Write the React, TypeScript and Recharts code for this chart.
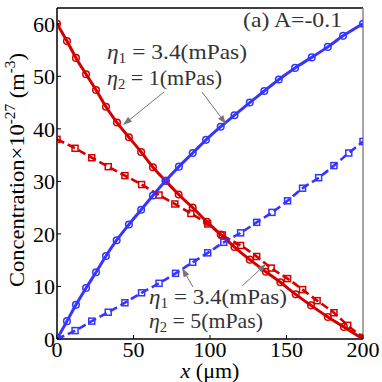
import React from 'react';
import { LineChart, Line, XAxis, YAxis, ReferenceLine } from 'recharts';

const xTicks = [0, 50, 100, 150, 200];
const yTicks = [0, 10, 20, 30, 40, 50, 60];

const redSolidX = [0, 6.5, 12.4, 19, 25.5, 32, 39.2, 47, 55, 62.7, 71, 79.5, 88.7, 98, 107, 116, 126, 136.5, 146, 156, 166, 177, 187.5, 200];
const redSolidY = [60, 56.7, 53.5, 50.4, 47.4, 44.2, 41.2, 38.4, 35.6, 32.7, 30.1, 27.5, 25.0, 22.3, 19.9, 17.5, 15.1, 12.8, 10.8, 8.5, 6.4, 4.2, 2.3, 0];

const blueSolidX = [0, 6.5, 12.4, 19, 25.5, 32, 39, 47, 55, 62.7, 71, 79.7, 88.7, 97.4, 107, 116, 126, 135.5, 145, 155.6, 166.5, 177, 187, 200];
const blueSolidY = [0, 3.4, 6.5, 9.7, 12.7, 15.8, 18.8, 21.8, 24.6, 27.3, 30.1, 32.8, 35.4, 37.9, 40.4, 42.6, 45.0, 47.2, 49.4, 51.6, 53.6, 55.6, 57.7, 60];

const redDashX = [0, 11.8, 22.7, 33.5, 44.4, 55.3, 66.7, 77, 87.5, 98.5, 108, 120, 130.5, 140, 150.7, 160.5, 170, 181, 190, 200];
const redDashY = [38, 36.3, 34.5, 32.8, 31.1, 29.4, 27.4, 25.7, 23.9, 21.9, 19.8, 17.8, 15.7, 13.5, 11.5, 9.4, 7.3, 5.0, 2.6, 0.3];

const blueDashX = [0, 11.8, 22.7, 33.5, 44.4, 55.3, 66.7, 77.5, 88.7, 98.5, 109, 120, 130.5, 140.5, 150.7, 160.5, 171, 181, 190.7, 200];
const blueDashY = [0, 1.6, 3.4, 5.1, 6.9, 8.8, 10.6, 12.5, 14.6, 16.4, 18.4, 20.2, 22.2, 24.1, 26.3, 28.7, 30.7, 33.0, 35.4, 37.6];

const zip = (xs: number[], ys: number[]) => xs.map((x, i) => ({ x, y: ys[i] }));

const redSolid = zip(redSolidX, redSolidY);
const blueSolid = zip(blueSolidX, blueSolidY);
const redDash = zip(redDashX, redDashY);
const blueDash = zip(blueDashX, blueDashY);

const RED = '#d40000';
const BLUE = '#3535ff';
const FONT = 'Liberation Serif, Times New Roman, serif';

const circleDot = (color: string) => (props: any) => {
  const { cx, cy, index } = props;
  if (cx == null || cy == null) return <g key={`c${index}`} />;
  return <circle key={`c${index}`} cx={cx} cy={cy} r={3.3} fill="none" stroke={color} strokeWidth={1.5} />;
};

const squareDot = (color: string) => (props: any) => {
  const { cx, cy, index } = props;
  if (cx == null || cy == null) return <g key={`s${index}`} />;
  return <rect key={`s${index}`} x={cx - 3} y={cy - 3} width={6} height={6} fill="none" stroke={color} strokeWidth={1.5} />;
};

const Arrow = ({ x1, y1, x2, y2 }: { x1: number; y1: number; x2: number; y2: number }) => {
  const ang = Math.atan2(y2 - y1, x2 - x1);
  const len = 9;
  const w = 3.2;
  const bx = x2 - len * Math.cos(ang);
  const by = y2 - len * Math.sin(ang);
  const px = -Math.sin(ang) * w;
  const py = Math.cos(ang) * w;
  return (
    <g>
      <line x1={x1} y1={y1} x2={bx} y2={by} stroke="#777" strokeWidth={1} />
      <polygon points={`${x2},${y2} ${bx + px},${by + py} ${bx - px},${by - py}`} fill="#777" />
    </g>
  );
};

const Eta = ({ x, y, sub, rest, len }: { x: number; y: number; sub: string; rest: string; len: number }) => (
  <text x={x} y={y} fontSize={21} fontFamily={FONT} fill="#333" textLength={len} lengthAdjust="spacingAndGlyphs">
    <tspan fontStyle="italic">η</tspan>
    <tspan fontSize={14} dy={4}>{sub}</tspan>
    <tspan dy={-4}>{rest}</tspan>
  </text>
);

const tickStyle = { fill: '#000', fontSize: 22, fontFamily: FONT } as any;

export default function App() {
  return (
    <div style={{ position: 'absolute', left: 0, top: 0, width: 382, height: 382, background: '#fff' }}>
      <LineChart width={382} height={382} margin={{ top: 8, right: 19, left: 0, bottom: 0 }}>
        <XAxis
          dataKey="x"
          type="number"
          domain={[0, 200]}
          ticks={xTicks}
          allowDataOverflow
          height={43}
          tickSize={-4}
          tickMargin={6}
          axisLine={{ stroke: '#000', strokeWidth: 1.5 }}
          tickLine={{ stroke: '#000' }}
          tick={tickStyle}
        />
        <YAxis
          type="number"
          domain={[0, 63]}
          ticks={yTicks}
          allowDataOverflow
          width={57}
          tickSize={-4}
          tickMargin={6}
          axisLine={{ stroke: '#000', strokeWidth: 1.5 }}
          tickLine={{ stroke: '#000' }}
          tick={tickStyle}
        />
        <ReferenceLine y={63} stroke="#000" strokeWidth={1.5} />
        <ReferenceLine x={200} stroke="#888" strokeWidth={1.5} />
        <Line data={redDash} dataKey="y" type="monotone" stroke={RED} strokeWidth={2.6} strokeDasharray="8 4" dot={squareDot(RED)} isAnimationActive={false} />
        <Line data={blueDash} dataKey="y" type="monotone" stroke={BLUE} strokeWidth={2.6} strokeDasharray="8 4" dot={squareDot(BLUE)} isAnimationActive={false} />
        <Line data={redSolid} dataKey="y" type="monotone" stroke={RED} strokeWidth={3} dot={circleDot(RED)} isAnimationActive={false} />
        <Line data={blueSolid} dataKey="y" type="monotone" stroke={BLUE} strokeWidth={3} dot={circleDot(BLUE)} isAnimationActive={false} />
      </LineChart>
      <svg width={382} height={382} style={{ position: 'absolute', left: 0, top: 0, pointerEvents: 'none' }}>
        <text x={243} y={27} fontSize={21} fontFamily={FONT} fill="#333" textLength={99} lengthAdjust="spacingAndGlyphs">(a) A=-0.1</text>
        <Eta x={107} y={59} sub="1" rest=" = 3.4(mPas)" len={140} />
        <Eta x={107} y={85} sub="2" rest=" = 1(mPas)" len={115} />
        <Arrow x1={164} y1={92} x2={123} y2={125} />
        <Arrow x1={202} y1={92} x2={226} y2={124} />
        <Eta x={149} y={304} sub="1" rest=" = 3.4(mPas)" len={138} />
        <Eta x={149} y={328} sub="2" rest=" = 5(mPas)" len={114} />
        <Arrow x1={193} y1={287} x2={182} y2={268} />
        <Arrow x1={242} y1={286} x2={266} y2={264} />
        <text x={210} y={378} fontSize={22} fontFamily={FONT} fill="#000" textAnchor="middle">
          <tspan fontStyle="italic">x</tspan>
          <tspan> (μm)</tspan>
        </text>
        <text transform="translate(24,170) rotate(-90)" fontSize={22} fontFamily={FONT} fill="#000" textAnchor="middle" textLength={234} lengthAdjust="spacingAndGlyphs">
          <tspan>Concentration×10</tspan>
          <tspan fontSize={15} dy={-9}>-27</tspan>
          <tspan dy={9}> (m</tspan>
          <tspan fontSize={15} dy={-9}>-3</tspan>
          <tspan dy={9}>)</tspan>
        </text>
      </svg>
    </div>
  );
}
